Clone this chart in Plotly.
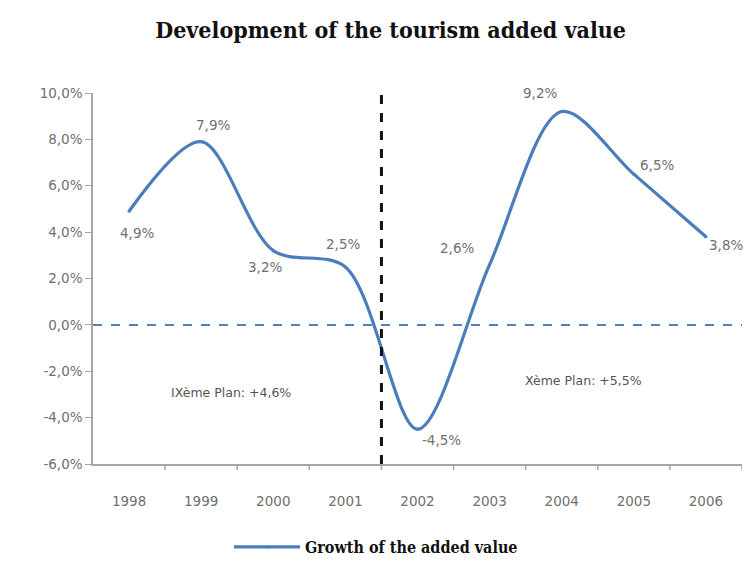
import plotly.graph_objects as go

years = ["1998", "1999", "2000", "2001", "2002", "2003", "2004", "2005", "2006"]
growth = [4.9, 7.9, 3.2, 2.5, -4.5, 2.6, 9.2, 6.5, 3.8]
label_text = ["4,9%", "7,9%", "3,2%", "2,5%", "-4,5%", "2,6%", "9,2%", "6,5%", "3,8%"]
label_shift = [(8, -22), (12, 17), (-8, -16), (-2, 23), (24, -11), (-33, 17), (-22, 19), (23, 9), (20, -8)]
y_ticks = [-6, -4, -2, 0, 2, 4, 6, 8, 10]
y_tick_text = ["-6,0%", "-4,0%", "-2,0%", "0,0%", "2,0%", "4,0%", "6,0%", "8,0%", "10,0%"]
plans = [("IXème Plan: +4,6%", 1.42, -2.93), ("Xème Plan: +5,5%", 6.3, -2.41)]

xi = list(range(len(years)))
gray = "#6f6f6f"
lab_font = dict(family="DejaVu Sans", size=13.5, color=gray)
serif = "DejaVu Serif Condensed, Liberation Serif, serif"

fig = go.Figure()
fig.add_trace(go.Scatter(
    x=xi, y=growth, mode="lines+markers", name="Growth of the added value",
    line=dict(color="#4a7ebb", width=3.2, shape="spline", smoothing=0.9),
    marker=dict(size=3, color="#4a7ebb"),
    cliponaxis=False,
))

annotations = []
for i, (v, t, (dx, dy)) in enumerate(zip(growth, label_text, label_shift)):
    annotations.append(dict(x=i, y=v, xref="x", yref="y", text=t, showarrow=False,
                            xshift=dx, yshift=dy, font=lab_font))
for t, px, py in plans:
    annotations.append(dict(x=px, y=py, xref="x", yref="y", text=t, showarrow=False,
                            font=dict(family="DejaVu Sans", size=12.5, color="#555555")))

fig.update_layout(
    width=744, height=562,
    paper_bgcolor="white", plot_bgcolor="white",
    margin=dict(l=93, r=2, t=93, b=98),
    title=dict(text="<b>Development of the tourism added value</b>", x=0.525, xanchor="center",
               y=1 - 30 / 562, yanchor="middle",
               font=dict(family=serif, size=23, color="#111111")),
    xaxis=dict(range=[-0.5, 8.5], tickmode="array", tickvals=xi, ticktext=years, automargin=False,
               showgrid=False, zeroline=False, showline=True, linecolor="#a6a6a6", linewidth=1.5,
               ticks="", tickfont=lab_font, ticklabelstandoff=24),
    yaxis=dict(range=[-6, 10], tickmode="array", tickvals=y_ticks, ticktext=y_tick_text, automargin=False,
               showgrid=False, zeroline=False, showline=True, linecolor="#a6a6a6", linewidth=1.5,
               ticks="outside", ticklen=6, tickcolor="#a6a6a6", tickfont=lab_font),
    showlegend=True,
    legend=dict(orientation="h", x=0.436, xanchor="center", yref="container", y=1 - 547 / 562,
                yanchor="middle",
                font=dict(family=serif, size=16, color="#111111", weight="bold"), itemwidth=66),
    annotations=annotations,
    shapes=[
        dict(type="line", xref="paper", yref="y", x0=0, x1=1, y0=0, y1=0,
             line=dict(color="#4f81bd", width=2, dash="dash")),
        dict(type="line", xref="x", yref="y", x0=3.5, x1=3.5, y0=-6, y1=10,
             line=dict(color="#111111", width=3, dash="dash")),
    ] + [dict(type="line", xref="x", yref="paper", x0=k - 0.5, x1=k - 0.5, y0=0, y1=-0.016,
              line=dict(color="#a6a6a6", width=1.5)) for k in range(1, len(years) + 1)],
)
fig.write_html("out.html", config={"displayModeBar": False},
               post_script="document.body.style.margin='0';document.body.style.overflow='hidden';")
